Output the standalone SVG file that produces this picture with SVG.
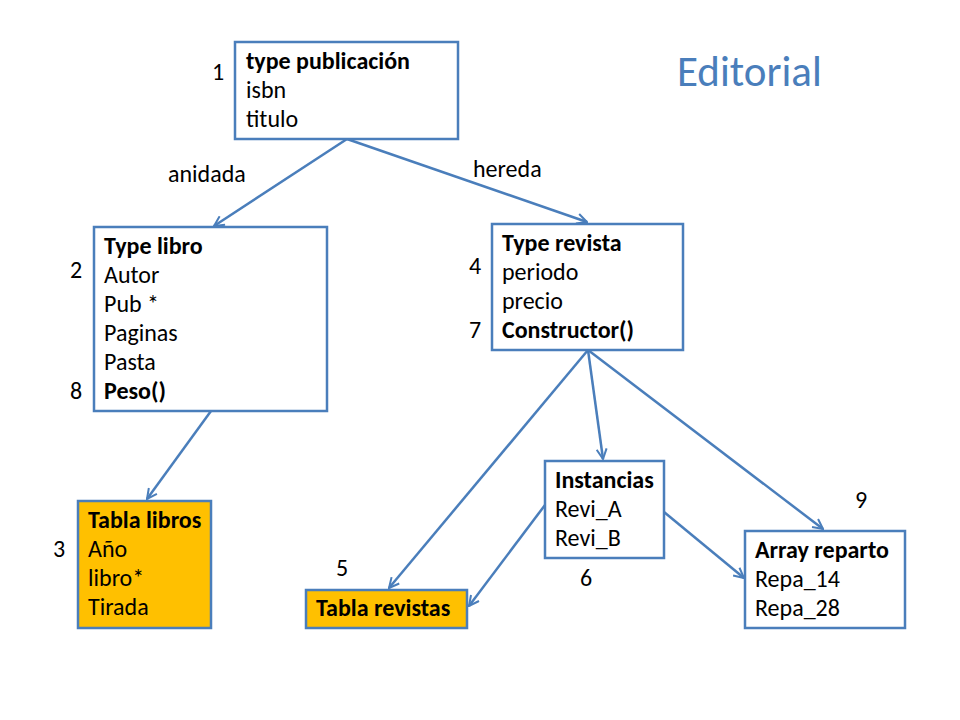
<svg xmlns="http://www.w3.org/2000/svg" width="960" height="720" viewBox="0 0 960 720">
<defs>
<style>
text{font-family:Carlito,Lato,"Liberation Sans",sans-serif;font-size:24px;fill:#000}
.b{font-weight:bold}
.box{fill:#fff;stroke:#4A7EBB;stroke-width:2.5}
.or{fill:#FFC000;stroke:#4A7EBB;stroke-width:2.5}
.c{stroke:#4A7EBB;stroke-width:2.5;fill:none;marker-end:url(#a)}
.t{font-size:43px;fill:#4A7EBB}
</style>
<marker id="a" viewBox="0 0 12 12" refX="11" refY="6" markerWidth="12" markerHeight="12" markerUnits="userSpaceOnUse" orient="auto">
<polyline points="1,1 11,6 1,11" fill="none" stroke="#4A7EBB" stroke-width="2"/>
</marker>
</defs>
<rect width="960" height="720" fill="#fff"/>
<text class="t" x="677" y="86">Editorial</text>
<g id="connectors">
<line class="c" x1="347" y1="139" x2="214" y2="226"/>
<line class="c" x1="347" y1="139" x2="587" y2="222"/>
<line class="c" x1="211" y1="411" x2="147" y2="499"/>
<line class="c" x1="588" y1="350" x2="389" y2="588"/>
<line class="c" x1="588" y1="350" x2="603" y2="459"/>
<line class="c" x1="588" y1="350" x2="823" y2="529"/>
<line class="c" x1="545" y1="505" x2="469" y2="606"/>
<line class="c" x1="664" y1="512" x2="744" y2="578"/>
<text x="168" y="182">anidada</text>
<text x="473" y="177">hereda</text>
</g>
<g id="n1">
<rect class="box" x="235" y="42" width="223" height="97"/>
<text class="b" x="246" y="69">type publicación</text>
<text x="246" y="98">isbn</text>
<text x="246" y="127">titulo</text>
<text x="212" y="80">1</text>
</g>
<g id="n2">
<rect class="box" x="94" y="227" width="233" height="184"/>
<text class="b" x="104" y="254">Type libro</text>
<text x="104" y="283">Autor</text>
<text x="104" y="312">Pub *</text>
<text x="104" y="341">Paginas</text>
<text x="104" y="370">Pasta</text>
<text class="b" x="104" y="399">Peso()</text>
<text x="70" y="278">2</text>
<text x="70" y="399">8</text>
</g>
<g id="n3">
<rect class="or" x="78" y="501" width="133" height="127"/>
<text class="b" x="88" y="528">Tabla libros</text>
<text x="88" y="557">Año</text>
<text x="88" y="586">libro*</text>
<text x="88" y="615">Tirada</text>
<text x="53" y="557">3</text>
</g>
<g id="n4">
<rect class="box" x="492" y="224" width="191" height="126"/>
<text class="b" x="502" y="251">Type revista</text>
<text x="502" y="280">periodo</text>
<text x="502" y="309">precio</text>
<text class="b" x="502" y="338">Constructor()</text>
<text x="469" y="274">4</text>
<text x="469" y="338">7</text>
</g>
<g id="n5">
<rect class="or" x="306" y="590" width="161" height="38"/>
<text class="b" x="316" y="616">Tabla revistas</text>
<text x="336" y="576">5</text>
</g>
<g id="n6">
<rect class="box" x="545" y="461" width="119" height="97"/>
<text class="b" x="555" y="488">Instancias</text>
<text x="555" y="517">Revi_A</text>
<text x="555" y="546">Revi_B</text>
<text x="580" y="586">6</text>
</g>
<g id="n9">
<rect class="box" x="745" y="531" width="160" height="97"/>
<text class="b" x="755" y="558">Array reparto</text>
<text x="755" y="587">Repa_14</text>
<text x="755" y="616">Repa_28</text>
<text x="855" y="508">9</text>
</g>
</svg>
